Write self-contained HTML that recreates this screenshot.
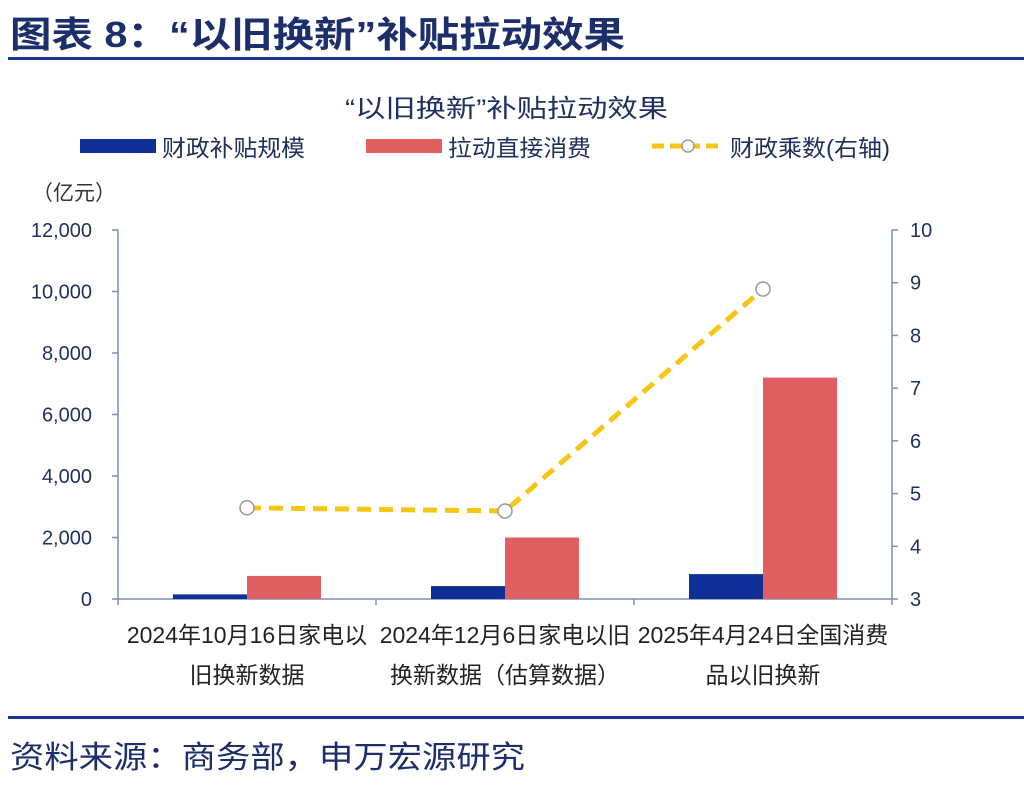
<!DOCTYPE html>
<html><head><meta charset="utf-8"><style>
body{margin:0;width:1024px;height:784px;background:#fff;overflow:hidden;font-family:"Liberation Sans","Noto Sans CJK SC",sans-serif}
</style></head><body>
<svg width="1024" height="784" font-family="Liberation Sans, Noto Sans CJK SC, sans-serif">
<text x="10" y="47" font-size="36" font-weight="bold" fill="#1c2f6b" textLength="615" lengthAdjust="spacingAndGlyphs">图表 8：“以旧换新”补贴拉动效果</text>
<rect x="8" y="57" width="1016" height="3" fill="#1a3a8f"/>
<text x="345" y="117" font-size="25" fill="#1f2f5e" textLength="323" lengthAdjust="spacingAndGlyphs">“以旧换新”补贴拉动效果</text>
<g>
<rect x="80" y="139" width="76" height="14" fill="#0f2f96"/>
<text x="162" y="156" font-size="23" fill="#1f2f5e" textLength="143" lengthAdjust="spacingAndGlyphs">财政补贴规模</text>
<rect x="366" y="139" width="76" height="14" fill="#e05f61"/>
<text x="448" y="156" font-size="23" fill="#1f2f5e" textLength="143" lengthAdjust="spacingAndGlyphs">拉动直接消费</text>
<line x1="652" y1="146" x2="724" y2="146" stroke="#f5c518" stroke-width="5" stroke-dasharray="12,6"/>
<circle cx="688" cy="146" r="6" fill="#fff" stroke="#999" stroke-width="1.5"/>
<text x="730" y="156" font-size="23" fill="#1f2f5e" textLength="160" lengthAdjust="spacingAndGlyphs">财政乘数(右轴)</text>
</g>
<text x="32" y="200" font-size="21" fill="#333">（亿元）</text>
<g id="chart"></g>
<rect x="8" y="716" width="1016" height="3" fill="#1a3a8f"/>
<text x="10" y="768" font-size="31" fill="#1c2f6b" textLength="515" lengthAdjust="spacingAndGlyphs">资料来源：商务部，申万宏源研究</text>
</svg>
<script>
const categories=[["2024年10月16日家电以","旧换新数据"],["2024年12月6日家电以旧","换新数据（估算数据）"],["2025年4月24日全国消费","品以旧换新"]];
const subsidy=[150,420,810];
const consumption=[750,2000,7200];
const multiplier=[4.73,4.67,8.88];
const leftTicks=[0,2000,4000,6000,8000,10000,12000];
const rightTicks=[3,4,5,6,7,8,9,10];
const NS="http://www.w3.org/2000/svg";
const g=document.getElementById('chart');
const X0=118,X1=892,Y0=599,Y1=230;
const yL=v=>Y0-(v/12000)*(Y0-Y1);
const yR=v=>Y0-((v-3)/7)*(Y0-Y1);
const bw=(X1-X0)/categories.length;
const cx=i=>X0+bw*(i+0.5);
function mk(t,a){const e=document.createElementNS(NS,t);for(const k in a)e.setAttribute(k,a[k]);g.appendChild(e);return e;}
let e;
e=mk('line',{x1:X0,y1:Y1,x2:X0,y2:Y0,stroke:'#7f8fb0','stroke-width':1.5});


e=mk('line',{x1:X1,y1:Y1,x2:X1,y2:Y0,stroke:'#7f8fb0','stroke-width':1.5});


e=mk('line',{x1:X0,y1:Y0,x2:X1,y2:Y0,stroke:'#7f8fb0','stroke-width':1.5});


leftTicks.forEach(v=>{
 e=mk('line',{x1:X0-6,y1:yL(v),x2:X0,y2:yL(v),stroke:'#7f8fb0','stroke-width':1.5});
 
 
 e=mk('text',{x:X0-26,y:yL(v)+7,'font-size':20,fill:'#1f2f5e','text-anchor':'end'});
 e.textContent=v.toLocaleString('en-US');
 
 
});
rightTicks.forEach(v=>{
 e=mk('line',{x1:X1,y1:yR(v),x2:X1+6,y2:yR(v),stroke:'#7f8fb0','stroke-width':1.5});
 
 
 e=mk('text',{x:X1+18,y:yR(v)+7,'font-size':20,fill:'#1f2f5e'});
 e.textContent=v;
 
 
});
for(let i=0;i<=categories.length;i++){
 e=mk('line',{x1:X0+bw*i,y1:Y0,x2:X0+bw*i,y2:Y0+6,stroke:'#7f8fb0','stroke-width':1.5});
 
 
}
categories.forEach((c,i)=>{
 e=mk('rect',{x:cx(i)-74,y:yL(subsidy[i]),width:74,height:Y0-yL(subsidy[i]),fill:'#0f2f96'});
 
 
 e=mk('rect',{x:cx(i),y:yL(consumption[i]),width:74,height:Y0-yL(consumption[i]),fill:'#e05f61'});
 
 
 c.forEach((s,j)=>{
  e=mk('text',{x:cx(i),y:643+j*40,'font-size':23,fill:'#222','text-anchor':'middle'});
  e.textContent=s;
  
  
 });
});
e=mk('polyline',{points:multiplier.map((v,i)=>cx(i)+','+yR(v)).join(' '),fill:'none',stroke:'#f5c518','stroke-width':5,'stroke-dasharray':'14,8'});


multiplier.forEach((v,i)=>{
 e=mk('circle',{cx:cx(i),cy:yR(v),r:7,fill:'#fff',stroke:'#999','stroke-width':1.5});
 
 
});
</script>
</body></html>
